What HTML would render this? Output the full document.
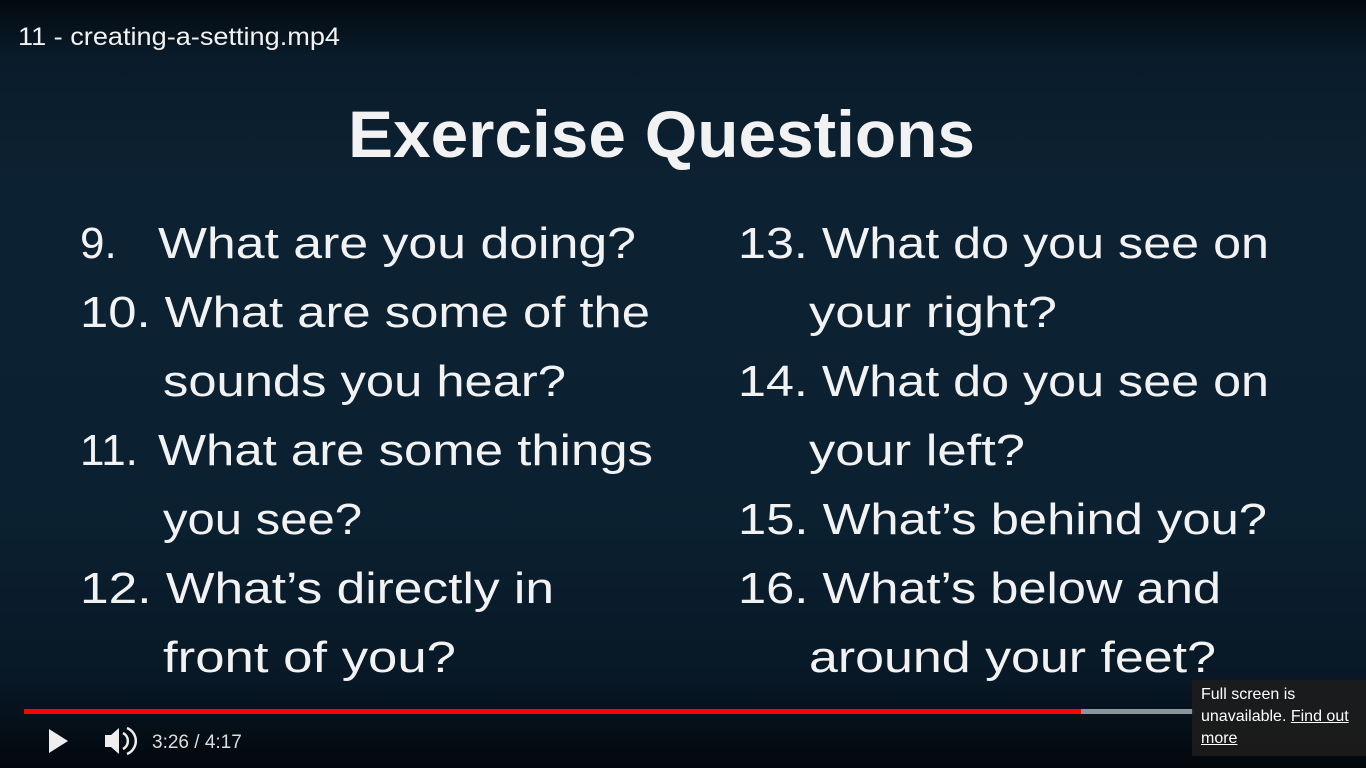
<!DOCTYPE html>
<html><head><meta charset="utf-8"><style>
html,body{margin:0;padding:0;width:1366px;height:768px;overflow:hidden;background:#0b1f2e;}
body{position:relative;font-family:"Liberation Sans",sans-serif;}
.bg{position:absolute;inset:0;background:linear-gradient(180deg,#030a10 0px,#0a1c2b 60px,#0c2233 200px,#0b2131 500px,#081826 680px,#02080d 768px);}
svg{position:absolute;left:0;top:0;}
.tip{position:absolute;left:1192px;top:680px;width:174px;height:76px;background:rgba(28,28,28,0.92);color:#fff;font-size:16px;line-height:22px;padding:4px 0 0 9px;box-sizing:border-box;}
.tip u{text-decoration:underline;}
</style></head><body>
<div class="bg"></div>
<svg width="1366" height="768" viewBox="0 0 1366 768">
<g fill="#f2f2f2" font-family="Liberation Sans, sans-serif">
<text x="18" y="45" font-size="25" textLength="322" lengthAdjust="spacingAndGlyphs">11 - creating-a-setting.mp4</text>
<text x="348" y="157" font-size="66" font-weight="bold" textLength="627" lengthAdjust="spacingAndGlyphs">Exercise Questions</text>
<g font-size="44">
<text x="80" y="258">9.</text>
<text x="158" y="258" textLength="478" lengthAdjust="spacingAndGlyphs">What are you doing?</text>
<text x="80" y="327" textLength="570" lengthAdjust="spacingAndGlyphs">10. What are some of the</text>
<text x="163" y="396" textLength="403" lengthAdjust="spacingAndGlyphs">sounds you hear?</text>
<text x="80" y="465">11.</text>
<text x="158" y="465" textLength="495" lengthAdjust="spacingAndGlyphs">What are some things</text>
<text x="163" y="534" textLength="199" lengthAdjust="spacingAndGlyphs">you see?</text>
<text x="80" y="603" textLength="474" lengthAdjust="spacingAndGlyphs">12. What’s directly in</text>
<text x="163" y="672" textLength="293" lengthAdjust="spacingAndGlyphs">front of you?</text>
<text x="738" y="258" textLength="531" lengthAdjust="spacingAndGlyphs">13. What do you see on</text>
<text x="809" y="327" textLength="248" lengthAdjust="spacingAndGlyphs">your right?</text>
<text x="738" y="396" textLength="531" lengthAdjust="spacingAndGlyphs">14. What do you see on</text>
<text x="809" y="465" textLength="216" lengthAdjust="spacingAndGlyphs">your left?</text>
<text x="738" y="534" textLength="529" lengthAdjust="spacingAndGlyphs">15. What’s behind you?</text>
<text x="738" y="603" textLength="483" lengthAdjust="spacingAndGlyphs">16. What’s below and</text>
<text x="809" y="672" textLength="407" lengthAdjust="spacingAndGlyphs">around your feet?</text>
</g>
</g>
<rect x="24" y="709" width="1170" height="5" fill="#8a959c"/>
<rect x="24" y="709" width="1057" height="5" fill="#ff0000"/>
<polygon points="49,729 49,753 68,741" fill="#eee"/>
<polygon points="105,735 111,735 119,728 119,754 111,747 105,747" fill="#eee"/>
<path d="M123,733 A9,9 0 0 1 123,749" stroke="#eee" stroke-width="2.5" fill="none"/>
<path d="M127,728 A14,14 0 0 1 127,754" stroke="#eee" stroke-width="2.5" fill="none"/>
<text x="152" y="748" font-size="19" fill="#ddd" font-family="Liberation Sans, sans-serif">3:26 / 4:17</text>
</svg>
<div class="tip">Full screen is<br>unavailable. <u>Find out</u><br><u>more</u></div>
</body></html>
